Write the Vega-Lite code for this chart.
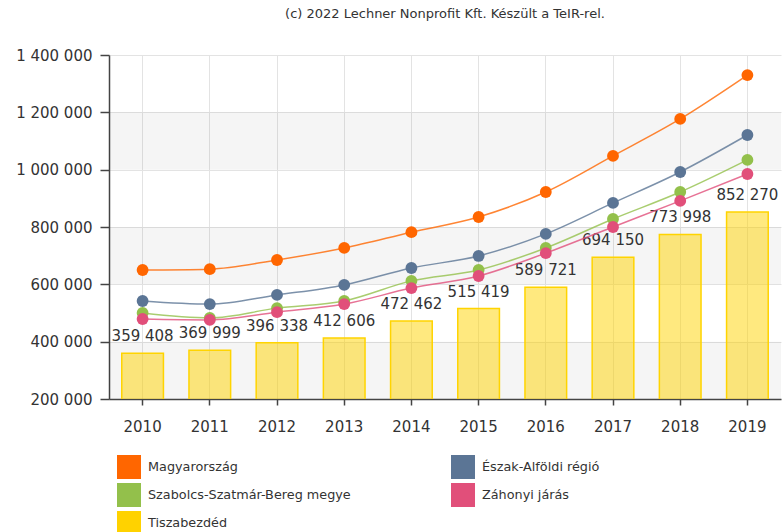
{
  "$schema": "https://vega.github.io/schema/vega-lite/v6.json",
  "width": 672,
  "height": 344,
  "autosize": {"type": "none"},
  "padding": {"left": 109, "top": 55, "right": 3, "bottom": 133},
  "background": "white",
  "title": {
    "text": "(c) 2022 Lechner Nonprofit Kft. Készült a TeIR-rel.",
    "font": "DejaVu Sans",
    "fontSize": 13,
    "fontWeight": "normal",
    "color": "#333333",
    "anchor": "middle",
    "offset": 27
  },
  "datasets": {
    "bands": [
      {"lo": 200000, "hi": 400000},
      {"lo": 600000, "hi": 800000},
      {"lo": 1000000, "hi": 1200000}
    ],
    "main": [
      {"year": "2010", "series": "Magyarország", "value": 650000},
      {"year": "2011", "series": "Magyarország", "value": 653000},
      {"year": "2012", "series": "Magyarország", "value": 685000},
      {"year": "2013", "series": "Magyarország", "value": 727000},
      {"year": "2014", "series": "Magyarország", "value": 782000},
      {"year": "2015", "series": "Magyarország", "value": 835000},
      {"year": "2016", "series": "Magyarország", "value": 922000},
      {"year": "2017", "series": "Magyarország", "value": 1048000},
      {"year": "2018", "series": "Magyarország", "value": 1177000},
      {"year": "2019", "series": "Magyarország", "value": 1330000},
      {"year": "2010", "series": "Észak-Alföldi régió", "value": 542000},
      {"year": "2011", "series": "Észak-Alföldi régió", "value": 531000},
      {"year": "2012", "series": "Észak-Alföldi régió", "value": 563000},
      {"year": "2013", "series": "Észak-Alföldi régió", "value": 598000},
      {"year": "2014", "series": "Észak-Alföldi régió", "value": 657000},
      {"year": "2015", "series": "Észak-Alföldi régió", "value": 699000},
      {"year": "2016", "series": "Észak-Alföldi régió", "value": 776000},
      {"year": "2017", "series": "Észak-Alföldi régió", "value": 884000},
      {"year": "2018", "series": "Észak-Alföldi régió", "value": 992000},
      {"year": "2019", "series": "Észak-Alföldi régió", "value": 1121000},
      {"year": "2010", "series": "Szabolcs-Szatmár-Bereg megye", "value": 500000},
      {"year": "2011", "series": "Szabolcs-Szatmár-Bereg megye", "value": 483000},
      {"year": "2012", "series": "Szabolcs-Szatmár-Bereg megye", "value": 517000},
      {"year": "2013", "series": "Szabolcs-Szatmár-Bereg megye", "value": 542000},
      {"year": "2014", "series": "Szabolcs-Szatmár-Bereg megye", "value": 612000},
      {"year": "2015", "series": "Szabolcs-Szatmár-Bereg megye", "value": 650000},
      {"year": "2016", "series": "Szabolcs-Szatmár-Bereg megye", "value": 727000},
      {"year": "2017", "series": "Szabolcs-Szatmár-Bereg megye", "value": 828000},
      {"year": "2018", "series": "Szabolcs-Szatmár-Bereg megye", "value": 922000},
      {"year": "2019", "series": "Szabolcs-Szatmár-Bereg megye", "value": 1034000},
      {"year": "2010", "series": "Záhonyi járás", "value": 479000},
      {"year": "2011", "series": "Záhonyi járás", "value": 476000},
      {"year": "2012", "series": "Záhonyi járás", "value": 503000},
      {"year": "2013", "series": "Záhonyi járás", "value": 531000},
      {"year": "2014", "series": "Záhonyi járás", "value": 587000},
      {"year": "2015", "series": "Záhonyi járás", "value": 629000},
      {"year": "2016", "series": "Záhonyi járás", "value": 709000},
      {"year": "2017", "series": "Záhonyi járás", "value": 800000},
      {"year": "2018", "series": "Záhonyi járás", "value": 891000},
      {"year": "2019", "series": "Záhonyi járás", "value": 985000},
      {"year": "2010", "series": "Tiszabezdéd", "value": 359408},
      {"year": "2011", "series": "Tiszabezdéd", "value": 369999},
      {"year": "2012", "series": "Tiszabezdéd", "value": 396338},
      {"year": "2013", "series": "Tiszabezdéd", "value": 412606},
      {"year": "2014", "series": "Tiszabezdéd", "value": 472462},
      {"year": "2015", "series": "Tiszabezdéd", "value": 515419},
      {"year": "2016", "series": "Tiszabezdéd", "value": 589721},
      {"year": "2017", "series": "Tiszabezdéd", "value": 694150},
      {"year": "2018", "series": "Tiszabezdéd", "value": 773998},
      {"year": "2019", "series": "Tiszabezdéd", "value": 852270}
    ]
  },
  "data": {"name": "main"},
  "layer": [
    {
      "data": {"name": "bands"},
      "mark": {"type": "rect", "color": "#000000", "opacity": 0.04},
      "encoding": {
        "y": {
          "field": "lo", "type": "quantitative", "title": null,
          "scale": {"domain": [200000, 1400000], "nice": false, "zero": false},
          "axis": {
            "values": [200000, 400000, 600000, 800000, 1000000, 1200000, 1400000],
            "format": ",d"
          }
        },
        "y2": {"field": "hi"}
      }
    },
    {
      "transform": [{"filter": "datum.series === 'Tiszabezdéd'"}],
      "mark": {"type": "bar", "clip": true, "fill": "#ffd400", "fillOpacity": 0.5, "stroke": "#ffd400", "strokeWidth": 1.5},
      "encoding": {
        "x": {
          "field": "year", "type": "nominal", "title": null,
          "scale": {"paddingInner": 0.38, "paddingOuter": 0.19},
          "axis": {"labelAngle": 0}
        },
        "y": {"field": "value", "type": "quantitative", "title": null}
      }
    },
    {
      "transform": [{"filter": "datum.series === 'Tiszabezdéd'"}],
      "mark": {"type": "text", "font": "DejaVu Sans", "fontSize": 15, "color": "#333333", "baseline": "middle", "dy": -17},
      "encoding": {
        "x": {"field": "year", "type": "nominal", "title": null},
        "y": {"field": "value", "type": "quantitative", "title": null},
        "text": {"field": "value", "type": "quantitative", "format": ",d"}
      }
    },
    {
      "transform": [{"filter": "datum.series !== 'Tiszabezdéd'"}],
      "mark": {"type": "line", "interpolate": "monotone", "strokeWidth": 1.5, "opacity": 0.8},
      "encoding": {
        "x": {"field": "year", "type": "nominal", "title": null},
        "y": {"field": "value", "type": "quantitative", "title": null},
        "color": {
          "field": "series",
          "type": "nominal",
          "scale": {
            "domain": ["Magyarország", "Szabolcs-Szatmár-Bereg megye", "Tiszabezdéd", "Észak-Alföldi régió", "Záhonyi járás"],
            "range": ["#ff6600", "#93c04b", "#ffd200", "#5b7595", "#e14f7a"]
          },
          "legend": {
            "orient": "none", "legendX": 8, "legendY": 400, "columns": 2,
            "columnPadding": 100, "rowPadding": 4, "padding": 0,
            "symbolType": "square", "symbolSize": 576, "symbolStrokeWidth": 0, "symbolOpacity": 1,
            "labelFont": "DejaVu Sans", "labelFontSize": 12.8, "labelColor": "#333333",
            "labelOffset": 7, "labelLimit": 400, "title": null
          }
        }
      }
    },
    {
      "transform": [{"filter": "datum.series !== 'Tiszabezdéd'"}],
      "mark": {"type": "point", "filled": true, "size": 140, "opacity": 1},
      "encoding": {
        "x": {"field": "year", "type": "nominal", "title": null},
        "y": {"field": "value", "type": "quantitative", "title": null},
        "color": {
          "field": "series",
          "type": "nominal",
          "legend": {
            "orient": "none", "legendX": 8, "legendY": 400, "columns": 2,
            "columnPadding": 100, "rowPadding": 4, "padding": 0,
            "symbolType": "square", "symbolSize": 576, "symbolStrokeWidth": 0, "symbolOpacity": 1,
            "labelFont": "DejaVu Sans", "labelFontSize": 12.8, "labelColor": "#333333",
            "labelOffset": 7, "labelLimit": 400, "title": null
          }
        }
      }
    }
  ],
  "config": {
    "locale": {"number": {"decimal": ",", "thousands": " ", "grouping": [3], "currency": ["", ""]}},
    "view": {"stroke": null},
    "axis": {
      "labelFont": "DejaVu Sans",
      "labelFontSize": 15,
      "labelColor": "#333333",
      "domainColor": "#444444",
      "domainWidth": 1.5,
      "tickColor": "#444444",
      "tickWidth": 1.5,
      "gridColor": "#e3e3e3",
      "grid": true
    },
    "axisX": {"tickSize": 6, "labelPadding": 14},
    "axisY": {"tickSize": 9, "labelPadding": 8}
  }
}
